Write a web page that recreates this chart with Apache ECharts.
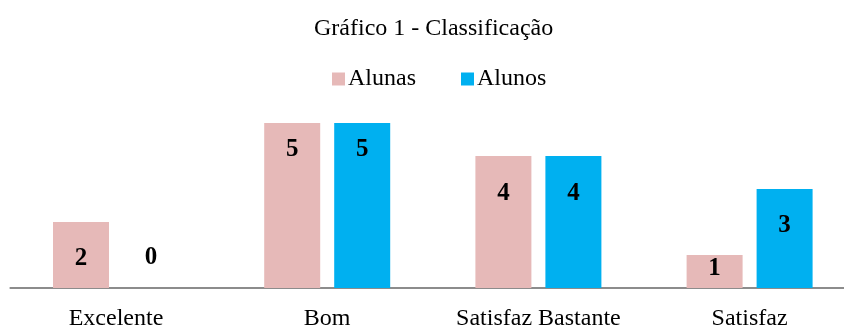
<!DOCTYPE html>
<html>
<head>
<meta charset="utf-8">
<script src="https://cdn.jsdelivr.net/npm/echarts@6/dist/echarts.min.js"></script>
<style>
  html, body { margin: 0; padding: 0; background: #fff; }
  #chart { width: 844px; height: 327px; }
</style>
</head>
<body>
<div id="chart"></div>
<script>
// Classification counts per category
const categories = ['Excelente', 'Bom', 'Satisfaz Bastante', 'Satisfaz'];
const alunas = [2, 5, 4, 1];
const alunos = [0, 5, 4, 3];
const seriesNames = ['Alunas', 'Alunos'];

// Distance of each value label below the top of its bar (px)
const labelDropAlunas = [24, 14, 25, 1];
const labelDropAlunos = [18, 14, 25, 24];

const FONT = '"Liberation Serif", "Times New Roman", serif';

function withLabels(values, drops) {
  return values.map((v, i) => ({
    value: v,
    label: v === 0
      ? { position: 'top', distance: drops[i] }
      : { position: 'insideTop', distance: drops[i] }
  }));
}

const chart = echarts.init(document.getElementById('chart'), null, { renderer: 'canvas' });
chart.setOption({
  animation: false,
  title: {
    text: 'Gráfico 1 - Classificação',
    left: 309,
    top: 12,
    textStyle: { fontFamily: FONT, fontSize: 24, fontWeight: 'normal', color: '#000' }
  },
  legend: {
    data: seriesNames,
    left: 327,
    top: 62,
    itemWidth: 13,
    itemHeight: 13,
    itemGap: 45,
    icon: 'rect',
    textStyle: { fontFamily: FONT, fontSize: 24, color: '#000', padding: [0, 0, 0, -2] }
  },
  // plot area runs slightly past the right edge so the last category is clipped like the axis line
  grid: { left: 10.4, width: 844.8, top: 90, bottom: 39, containLabel: false, outerBoundsMode: 'none' },
  xAxis: {
    type: 'category',
    data: categories,
    axisLine: { lineStyle: { color: '#8c8c8c', width: 2 } },
    axisTick: { show: false },
    axisLabel: { interval: 0, fontFamily: FONT, fontSize: 24, color: '#000', margin: 19 }
  },
  yAxis: {
    type: 'value',
    min: 0,
    max: 6,
    show: false,
    splitLine: { show: false }
  },
  series: [
    {
      name: seriesNames[0],
      type: 'bar',
      data: withLabels(alunas, labelDropAlunas),
      barWidth: 56,
      barGap: '25%',
      itemStyle: { color: '#E6B9B8' },
      label: { show: true, fontFamily: FONT, fontSize: 25, fontWeight: 'bold', color: '#000' }
    },
    {
      name: seriesNames[1],
      type: 'bar',
      data: withLabels(alunos, labelDropAlunos),
      barWidth: 56,
      barGap: '25%',
      itemStyle: { color: '#00B0F0' },
      label: { show: true, fontFamily: FONT, fontSize: 25, fontWeight: 'bold', color: '#000' }
    }
  ]
});
</script>
</body>
</html>
